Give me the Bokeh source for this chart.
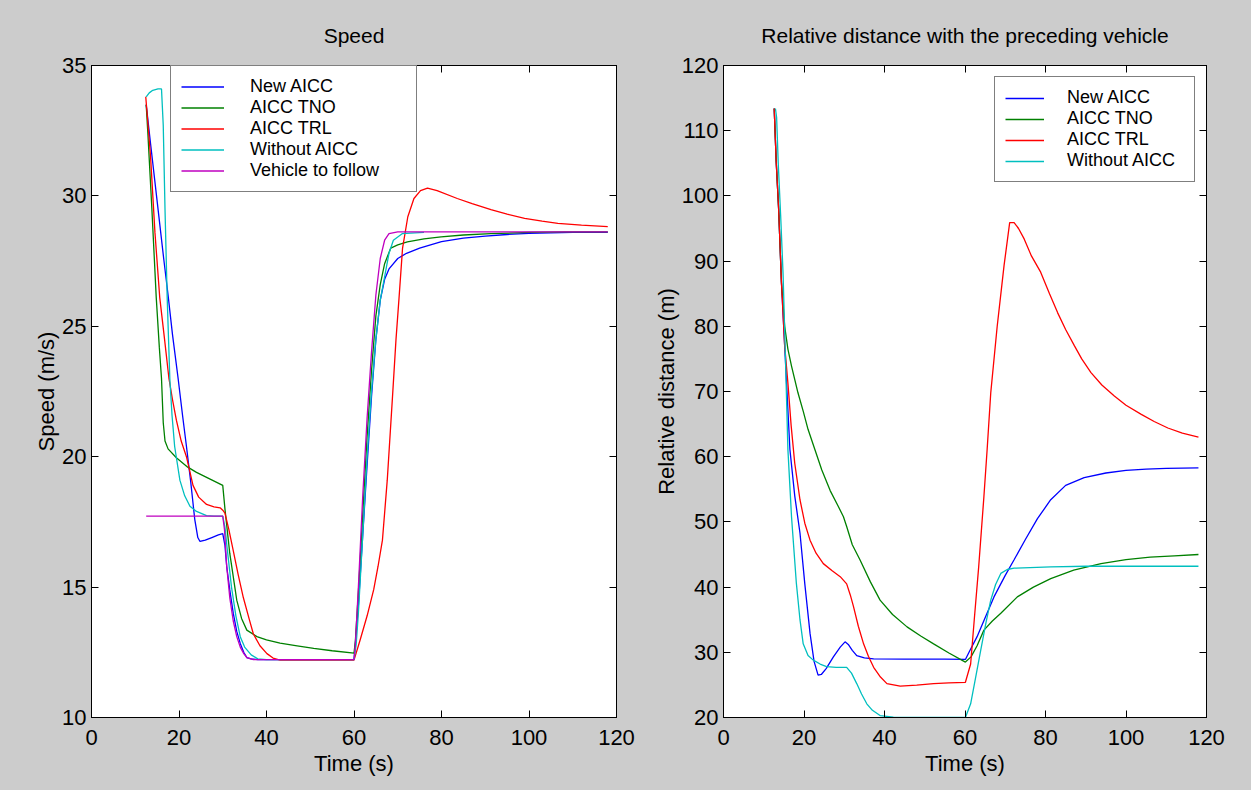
from bokeh.plotting import figure
from bokeh.models import LinearAxis, Range1d, FixedTicker, Legend, LegendItem
from bokeh.layouts import row
from bokeh.embed import file_html
from bokeh.resources import INLINE

# ---------------- data ----------------
x_ticks = [0, 20, 40, 60, 80, 100, 120]
speed_ticks = [10, 15, 20, 25, 30, 35]
dist_ticks = [20, 30, 40, 50, 60, 70, 80, 90, 100, 110, 120]

# Speed plot
t_new_s = [12.5, 13.5, 15, 16.5, 17.5, 18.5, 19.8, 20.8, 21.7, 22.7, 23.6, 24.3, 24.8, 26, 27.5, 29, 30,
           30.5, 30.9, 31.6, 32.4, 33.2, 34, 34.8, 35.5, 36.5, 38, 45, 55, 60, 60.3, 61, 62, 63, 64, 65,
           66, 67, 68, 70, 72, 75, 80, 85, 90, 95, 100, 105, 110, 118]
v_new_s = [33.5, 32.0, 29.8, 27.6, 26.2, 24.7, 23.0, 21.6, 20.4, 19.0, 17.6, 16.9, 16.75, 16.8, 16.9, 17.0, 17.05,
           16.6, 15.8, 14.9, 14.0, 13.3, 12.84, 12.5, 12.3, 12.25, 12.22, 12.22, 12.22, 12.22, 12.8, 14.3, 17.0, 19.7, 22.3, 24.5,
           26.0, 26.8, 27.2, 27.6, 27.8, 28.0, 28.25, 28.38, 28.46, 28.52, 28.56, 28.58, 28.6, 28.6]

t_tno_s = [12.5, 12.9, 13.8, 14.8, 15.5, 16.0, 16.4, 16.8, 17.5, 19.4, 22, 24, 27, 30, 30.5, 31.6, 33.2, 34.3,
           35.5, 37.8, 40, 43.1, 47, 50.8, 55, 60, 60.3, 61, 62, 63, 64, 65, 66, 67, 68.4, 70, 72.2, 76, 79.9,
           85, 91.3, 100, 108, 118]
v_tno_s = [33.5, 32.35, 29.5, 26.1, 24.2, 23.0, 21.3, 20.6, 20.3, 19.96, 19.6, 19.4, 19.15, 18.9, 18.0, 16.3, 14.5, 13.8,
           13.35, 13.1, 12.98, 12.85, 12.75, 12.65, 12.56, 12.47, 12.9, 14.8, 17.8, 20.8, 23.3, 25.4, 26.6, 27.4, 28.0, 28.12, 28.24, 28.35, 28.43,
           28.5, 28.55, 28.6, 28.62, 28.62]

t_trl_s = [12.4, 13.5, 14.5, 15.6, 16.7, 17.7, 18.5, 19.4, 20.5, 21.7, 23.2, 24.5, 26.3, 28, 29.4, 30, 30.5, 31.4,
           32.4, 33.5, 34.7, 36, 37, 38.5, 40.1, 41.5, 43.1, 50, 60, 61.4, 63, 64.5, 65.5, 66.5, 67.6, 68.8, 69.6,
           70.3, 71.1, 72.3, 73.7, 75.2, 76.8, 79, 83.6, 87, 91.3, 95, 99, 103, 106.6, 112, 118]
v_trl_s = [33.8, 31.5, 28.6, 26.1, 24.5, 23.0, 22.2, 21.4, 20.6, 20.0, 18.9, 18.45, 18.17, 18.08, 18.04, 17.95, 17.84, 17.2,
           16.4, 15.5, 14.6, 13.8, 13.2, 12.75, 12.45, 12.28, 12.2, 12.2, 12.2, 12.97, 13.9, 14.9, 15.8, 16.8, 19.1, 22.3, 24.5,
           26.1, 28.0, 29.2, 29.9, 30.2, 30.3, 30.2, 29.9, 29.7, 29.47, 29.3, 29.14, 29.03, 28.95, 28.88, 28.82]

t_wo_s = [12.5, 13.2, 14, 15.2, 16.0, 16.4, 16.8, 17.3, 17.9, 18.4, 19.0, 20.2, 21.3, 22.5, 24, 26.3, 28, 30,
          30.5, 31, 32, 33, 34, 35, 36.5, 38, 40, 60, 60.5, 61, 62, 63, 64, 65, 66, 67, 68, 69, 71, 76]
v_wo_s = [33.8, 33.95, 34.05, 34.1, 34.1, 32.7, 29.5, 26.1, 23.0, 21.6, 20.4, 19.1, 18.5, 18.1, 17.9, 17.74, 17.72, 17.72,
          17.3, 16.5, 15.0, 13.9, 13.1, 12.7, 12.4, 12.25, 12.22, 12.22, 12.8, 14.0, 17.0, 20.0, 22.5, 24.5, 26.0, 26.9, 27.8, 28.3, 28.55, 28.6]

t_lead_s = [12.5, 30, 30.4, 30.9, 31.6, 32.4, 33.2, 34, 34.8, 35.5, 37, 60, 60.3, 61, 62, 63, 64, 65, 66, 67, 68,
            70, 118]
v_lead_s = [17.72, 17.72, 17.2, 15.8, 14.6, 13.7, 13.1, 12.7, 12.45, 12.3, 12.22, 12.22, 12.8, 15.0, 18.5, 21.5, 24.0, 26.2, 27.6, 28.3, 28.55,
            28.62, 28.62]

# Distance plot
t_new_d = [12.6, 13.1, 13.7, 14.4, 15.2, 16.5, 17.7, 19, 20.2, 21.5, 22.5, 23.5, 24.3, 25.5, 27.3, 29, 30.2, 31, 32,
           33.1, 35, 37.3, 45, 55, 60.1, 61, 63, 65, 67.2, 70, 72.2, 75, 78, 81.3, 85, 89.6, 95, 100, 105, 110, 118]
d_new_d = [113.4, 105.2, 98, 86.7, 77, 61.1, 54, 48.3, 40.5, 32.9, 28.6, 26.5, 26.6, 27.5, 29.3, 30.8, 31.6, 31.2, 30.3,
           29.5, 29.15, 29.0, 28.95, 28.95, 28.9, 30, 32.4, 35.3, 38.5, 41.8, 44.2, 47.3, 50.5, 53.4, 55.6, 56.8, 57.5, 57.9, 58.1, 58.2, 58.3]

t_tno_d = [12.6, 13.1, 13.7, 14.4, 15.2, 16.0, 16.9, 18.5, 19.8, 21, 22.7, 24.4, 26.5, 28.5, 29.8, 30.6, 32, 33.9,
           36.5, 38.9, 42, 45.6, 49, 52.2, 56, 60.1, 61.5, 63, 64.7, 66.8, 68.9, 73, 77, 81.3, 87, 93.8, 100, 106, 112, 118]
d_tno_d = [113.4, 105.2, 98, 86.7, 80, 76.5, 73.9, 69.8, 67, 64.2, 61.1, 58, 54.8, 52.4, 50.8, 49.3, 46.5, 44.2,
           40.8, 38, 35.8, 33.9, 32.5, 31.3, 29.9, 28.5, 29.3, 31, 33.4, 34.8, 36, 38.5, 40, 41.3, 42.6, 43.6, 44.2, 44.6, 44.8, 45]

t_trl_d = [12.6, 13.1, 13.7, 14.4, 15.2, 16, 16.8, 17.7, 19, 20.2, 21.5, 23, 24.8, 27, 29, 30.6, 31.5, 32.3, 33.5,
           34.8, 36, 37.3, 39, 40.6, 43.9, 48, 52.2, 56, 60.1, 61.4, 62.3, 63.4, 64.7, 65.5, 66.4, 68, 69.7, 71.1,
           72.2, 73.3, 74.7, 76.5, 78.8, 81, 83, 85, 87.2, 89, 91.3, 94, 97.1, 100, 103.8, 107, 110.4, 114, 118]
d_trl_d = [113.4, 105.2, 98, 86.7, 77, 71.3, 64.8, 59, 53.4, 49.8, 47.2, 45.2, 43.6, 42.5, 41.6, 40.5, 38.8, 37, 34,
           31.3, 29.4, 27.7, 26.2, 25.2, 24.8, 24.95, 25.2, 25.3, 25.4, 28.2, 35, 43.1, 53.9, 61.1, 69.8, 80, 89.3, 95.9,
           95.9, 95, 93.4, 90.8, 88.3, 85, 82.1, 79.5, 77, 75, 72.9, 71, 69.3, 67.9, 66.5, 65.4, 64.4, 63.6, 63]

t_wo_d = [12.9, 13.2, 13.6, 14.2, 14.8, 15.4, 16.0, 16.9, 18.1, 19.0, 19.8, 21, 22.3, 24, 25.6, 28, 30.6, 31.8,
          33.1, 34.3, 35.6, 37, 38.9, 42.2, 50, 60.1, 61.4, 62.6, 63.9, 65.2, 66.4, 67.6, 68.9, 70.5, 72.2, 81.3,
          90, 100, 118]
d_wo_d = [113.4, 112, 105, 97, 88, 75, 61.1, 50.8, 40.6, 35, 31.3, 29.5, 28.8, 28.2, 27.8, 27.7, 27.7, 26.8,
          25.2, 23.6, 22.1, 21.1, 20.3, 20.05, 20, 20, 22.1, 26, 30.3, 34.5, 38, 40.4, 42.1, 42.7, 42.9, 43.1,
          43.2, 43.2, 43.2]

labels_speed = ["New AICC", "AICC TNO", "AICC TRL", "Without AICC", "Vehicle to follow"]
labels_dist = ["New AICC", "AICC TNO", "AICC TRL", "Without AICC"]
colors = ["#0000ff", "#008000", "#ff0000", "#00bfbf", "#bf00bf"]

# ---------------- styling ----------------
GRAY = "#cccccc"
AX_FONT = "Liberation Sans"
LEG_FONT = "Liberation Sans"


def make_fig(title, ylab, yr, yticks, width, mbl, mbr):
    p = figure(width=width, height=790, x_range=Range1d(0, 120), y_range=Range1d(*yr),
               output_backend="svg", toolbar_location=None, title=title,
               min_border_left=mbl, min_border_right=mbr, min_border_top=65, min_border_bottom=73,
               border_fill_color=GRAY, background_fill_color="white",
               outline_line_color="black", outline_line_width=1)
    p.grid.visible = False
    p.title.align = "center"
    p.title.text_font = AX_FONT
    p.title.text_font_size = "21px"
    p.title.text_font_style = "normal"
    p.title.text_color = "black"
    p.title.standoff = 37

    p.xaxis.ticker = FixedTicker(ticks=x_ticks)
    p.yaxis.ticker = FixedTicker(ticks=yticks)
    p.xaxis.axis_label = "Time (s)"
    p.yaxis.axis_label = ylab
    for ax in (p.xaxis[0], p.yaxis[0]):
        ax.major_tick_in = 7
        ax.major_tick_out = 0
        ax.minor_tick_line_color = None
        ax.axis_line_color = "black"
        ax.major_tick_line_color = "black"
        ax.major_label_text_font = AX_FONT
        ax.major_label_text_font_size = "22px"
        ax.major_label_text_color = "black"
        ax.axis_label_text_font = AX_FONT
        ax.axis_label_text_font_size = "22px"
        ax.axis_label_text_font_style = "normal"
        ax.axis_label_text_color = "black"
    p.xaxis.major_label_standoff = 12
    p.xaxis.axis_label_standoff = 3
    p.yaxis.major_label_standoff = 5
    p.yaxis.axis_label_standoff = 0

    for side, tk in (("above", x_ticks), ("right", yticks)):
        ax = LinearAxis(ticker=FixedTicker(ticks=tk), major_tick_in=7, major_tick_out=0,
                        minor_tick_line_color=None, major_label_text_font_size="1px",
                        major_label_text_color=None,
                        major_label_standoff=0, axis_line_color="black",
                        major_tick_line_color="black")
        p.add_layout(ax, side)
    return p


def add_legend(p, items, loc, row_h, glyph_w, standoff, label_w):
    leg = Legend(items=items, location=loc, border_line_color="black", border_line_width=1,
                 background_fill_color="white", background_fill_alpha=1.0,
                 label_text_font=LEG_FONT, label_text_font_size="18px", label_text_color="black",
                 label_text_line_height=1.0,
                 glyph_width=glyph_w, glyph_height=row_h, label_height=row_h, label_width=label_w,
                 label_standoff=standoff, padding=10, spacing=0, margin=0)
    p.add_layout(leg)


# ---------------- speed ----------------
p1 = make_fig("Speed", "Speed (m/s)", (10, 35), speed_ticks, 640, 91, 24)
speed_series = [(t_new_s, v_new_s), (t_tno_s, v_tno_s), (t_trl_s, v_trl_s),
                (t_wo_s, v_wo_s), (t_lead_s, v_lead_s)]
items1 = []
for (tx, vy), lab, col in zip(speed_series, labels_speed, colors):
    r = p1.line(tx, vy, line_color=col, line_width=1.3)
    items1.append(LegendItem(label=lab, renderers=[r]))
add_legend(p1, items1, (79, 525), 21, 43, 26, 156)

# ---------------- distance ----------------
p2 = make_fig("Relative distance with the preceding vehicle", "Relative distance (m)",
              (20, 120), dist_ticks, 611, 83, 45)
dist_series = [(t_new_d, d_new_d), (t_tno_d, d_tno_d), (t_trl_d, d_trl_d), (t_wo_d, d_wo_d)]
items2 = []
for (tx, dy), lab, col in zip(dist_series, labels_dist, colors):
    r = p2.line(tx, dy, line_color=col, line_width=1.3)
    items2.append(LegendItem(label=lab, renderers=[r]))
add_legend(p2, items2, (271, 535), 20, 39, 23, 117)

layout = row(p1, p2, styles={"background-color": GRAY})
open("out.html", "w").write(file_html(layout, INLINE))
